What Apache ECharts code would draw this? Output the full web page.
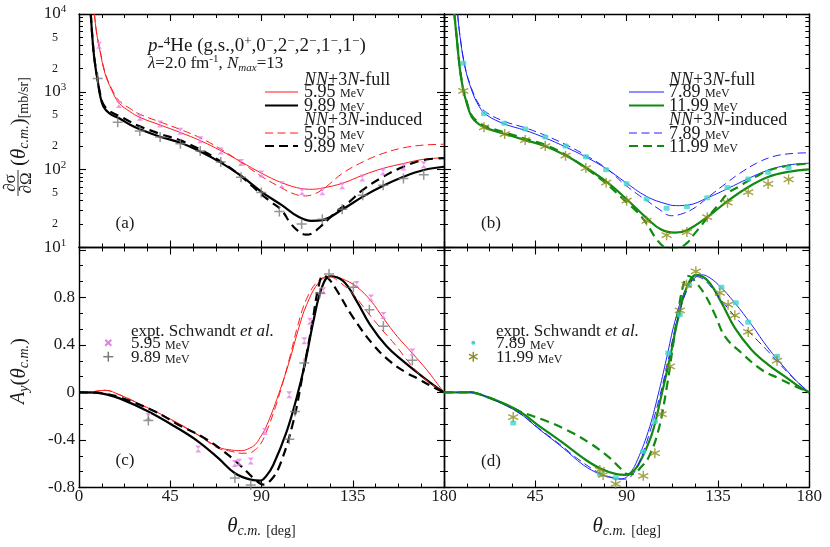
<!DOCTYPE html>
<html><head><meta charset="utf-8">
<script src="https://cdn.jsdelivr.net/npm/echarts@6.0.0/dist/echarts.min.js"></script>
<style>html,body{margin:0;padding:0;background:#fff}#c{width:830px;height:547px}</style>
</head><body><div id="c"></div>
<script>
// ---------------- DATA ----------------
// Panel (a): dσ/dΩ [mb/sr] vs θc.m. [deg]
const sigFull595 = [[7.6,10000],[8.7,5650],[10.4,3300],[12.8,1730],[16.1,1057],[19.7,720],[25,560],[30,470],[40,375],[50,300],[60,235],[70,175],[80,126],[90,90],[100,68],[110,57],[115,56],[120,58],[130,67],[140,85],[150,104],[160,120],[170,136],[180,142]];
const sigFull989 = [[5.8,10000],[7.1,3450],[8.2,2000],[9.2,1400],[10.4,900],[12,650],[15,530],[18.6,470],[20,455],[25,380],[30,330],[40,265],[50,222],[60,170],[70,123],[80,83],[90,52],[100,35],[108,25],[114.7,22],[120,22.5],[130,31],[140,45],[150,62],[160,81],[170,99],[180,109]];
const sigInd595 = [[7.6,10000],[8.7,5700],[10.4,3400],[12.8,1800],[16.1,1100],[19.7,770],[25,615],[30,515],[40,410],[50,328],[60,255],[70,183],[80,124],[90,82],[100,58],[105,50],[110.6,46],[115,47.5],[121,58],[130,90],[140,126],[150,162],[160,191],[170,207],[180,212]];
const sigInd989 = [[5.8,10000],[7.1,3500],[8.2,2050],[9.2,1450],[10.4,950],[12,690],[15,570],[18.6,505],[20,490],[25,415],[30,360],[40,288],[50,238],[60,180],[70,127],[80,82],[90,48],[95,38],[100,30],[104,21],[108,16.3],[112,14.6],[115,15.2],[119,18.5],[124,24.5],[127,29],[133,38],[140,55],[150,81],[160,109],[170,133],[180,141]];
const expSig595 = [[9.9,3980],[19.7,687],[30,471],[40,386],[50,311],[59.8,243],[69.9,174],[79.9,124],[89.9,88],[100,64],[110,52],[120,52],[129.8,62],[139.7,78],[149.9,94],[160,108],[170,116]];
const expSig989 = [[9.2,1483],[19.1,406],[30,314],[40,263],[50,216],[59.8,174],[69.9,125],[79.9,80],[89.9,51],[98.8,29],[109.8,20],[120,23],[129.8,31],[139.9,47],[150,63],[160,77],[170,86]];

// Panel (b)
const sigFull789 = [[6.7,10000],[7.9,5120],[10.3,2100],[13.6,1057],[17.4,644],[21,504],[30,385],[40,320],[50,255],[60,195],[70,145],[80,103],[89,70],[100,45],[110,36],[114.6,34.5],[120,35],[130,43.6],[140,57.5],[150,77],[160,99],[170,115],[180,121]];
const sigFull1199 = [[5.1,10000],[6.2,5120],[7.9,1900],[9.5,1050],[10.3,865],[13.6,479],[17.7,375],[21,339],[30,287],[40,240],[50,200],[60,152],[70,106],[80,70],[90,41.7],[100,23.7],[107,17],[113.8,15.5],[120,16.8],[130,24.9],[140,40],[150,60],[160,81],[170,94],[180,101]];
const sigInd789 = [[6.7,10000],[7.9,5200],[10.3,2150],[13.6,1100],[17.4,680],[21,540],[30,415],[40,345],[50,275],[60,210],[70,152],[80,104],[88,68],[95,49],[100,40],[106,31],[112,25.6],[118,27.5],[124,33],[130,44],[140,70],[145.8,90],[154,121],[162,147],[170,160],[180,165]];
const sigInd1199 = [[5.1,10000],[6.2,5200],[7.9,1950],[9.5,1080],[10.3,900],[13.6,500],[17.7,395],[21,355],[30,300],[40,250],[50,208],[60,155],[70,104],[80,66],[90,38],[95,29],[100,20],[104.7,12.8],[109,10],[114,9.5],[119.5,11.3],[123.6,15.2],[127,19.5],[130,24.5],[135,35],[140,50],[145,60],[150,72],[155,85],[160,98],[170,113],[180,120]];
const expSig789 = [[9.5,2330],[19.7,524],[29.7,394],[40,333],[49.9,263],[59.9,201],[69.9,147],[79.9,100],[90,66],[99.8,42],[109.7,32],[119.7,33.5],[129.7,43.6],[139.7,59],[149.9,76],[159.7,92.5],[169.8,105]];
const expSig1199 = [[9.5,1026],[19.7,350],[29.9,287],[40,240],[49.9,201],[59.9,151],[69.9,105],[79.9,68],[90,40],[99.8,22],[109.7,14.4],[119.7,15.8],[129.7,24.5],[139.7,37.7],[149.9,51.6],[159.7,65.5],[169.8,75]];

// Panel (c): Ay
const ayFull595 = [[0,0],[6,0.005],[12.8,0.018],[20,-0.02],[34.2,-0.132],[47.3,-0.244],[58.8,-0.357],[68.7,-0.46],[75.3,-0.485],[80.2,-0.49],[84,-0.47],[86.8,-0.44],[89.3,-0.38],[92,-0.30],[97.5,-0.06],[103.7,0.26],[108,0.52],[112.3,0.74],[118.8,0.936],[124.6,0.978],[130,0.955],[136.9,0.89],[144,0.77],[150.1,0.625],[157,0.47],[164.4,0.33],[171.5,0.19],[176,0.09],[180,0]];
const ayFull989 = [[0,0],[8,-0.002],[12.8,-0.014],[20,-0.05],[34.2,-0.16],[47.3,-0.287],[58.8,-0.413],[68.7,-0.553],[76.9,-0.68],[85.2,-0.736],[89.5,-0.742],[92.5,-0.70],[95.8,-0.61],[102.4,-0.329],[107.3,-0.047],[111.5,0.248],[115.6,0.599],[119.7,0.88],[123.8,0.978],[130.4,0.936],[137,0.767],[143.5,0.571],[151.7,0.388],[160,0.261],[168.2,0.149],[175,0.06],[180,0]];
const ayInd595 = [[0,0],[6,0.005],[12.8,0.018],[20,-0.02],[34.2,-0.135],[47.3,-0.25],[58.8,-0.36],[68.7,-0.47],[75,-0.495],[80,-0.512],[84,-0.51],[87,-0.48],[89.3,-0.44],[92,-0.35],[97.5,-0.09],[103.7,0.28],[108,0.57],[112.3,0.79],[118,0.94],[123.5,0.975],[128,0.935],[135,0.83],[143,0.66],[149.3,0.53],[156,0.40],[162.4,0.26],[170,0.12],[180,0]];
const ayInd989 = [[0,0],[8,-0.002],[12.8,-0.01],[20,-0.04],[37.5,-0.16],[49,-0.272],[60.5,-0.371],[70.4,-0.483],[80.2,-0.624],[86,-0.72],[91,-0.775],[95,-0.73],[99.1,-0.61],[105.7,-0.245],[110.6,0.177],[115,0.58],[118,0.88],[120.5,0.985],[123,0.96],[127.1,0.86],[135.3,0.627],[145.1,0.402],[153.4,0.261],[161.6,0.164],[166.5,0.121],[173,0.06],[180,0]];
const expAy595 = [[34.2,-0.202],[58.8,-0.475],[76.9,-0.599],[79,-0.587],[84.7,-0.576],[91.7,-0.329],[103.7,-0.019],[111.1,0.436],[113.9,0.599],[120.5,0.857],[136.9,0.908],[144,0.796],[150.1,0.647],[164.4,0.34]];
const expAy989 = [[34.2,-0.236],[76.9,-0.72],[84.7,-0.78],[103.7,-0.393],[106.5,-0.16],[111.1,0.248],[118.8,0.838],[123.3,0.998],[135.3,0.885],[143.2,0.697],[150.1,0.557],[164.4,0.27]];

// Panel (d): Ay
const ayFull789 = [[0,0],[8,0],[12.8,0.004],[20,-0.03],[35.8,-0.16],[47.3,-0.315],[58.8,-0.469],[68.6,-0.61],[76.8,-0.688],[82,-0.715],[86,-0.728],[89,-0.722],[91.6,-0.68],[94.5,-0.6],[100.6,-0.33],[105.5,-0.02],[109.7,0.29],[113.8,0.599],[118.7,0.852],[124.4,0.978],[127,0.99],[130,0.975],[135.1,0.908],[143.3,0.754],[151.5,0.571],[159.7,0.374],[167.9,0.206],[174,0.09],[180,0]];
const ayFull1199 = [[0,0],[8,0],[12.8,0],[20,-0.03],[35.8,-0.146],[47.3,-0.287],[58.8,-0.427],[68.6,-0.553],[76.8,-0.638],[85,-0.688],[89,-0.694],[92,-0.68],[95.7,-0.61],[102.3,-0.357],[107.2,-0.02],[111.3,0.29],[115.4,0.627],[119.5,0.88],[124.4,0.99],[130.2,0.936],[136.8,0.754],[143.3,0.543],[151.5,0.36],[159.7,0.234],[167.9,0.135],[174,0.06],[180,0]];
const ayInd789 = [[0,0],[8,0],[12.8,0.004],[20,-0.03],[35.8,-0.16],[47.3,-0.31],[58.8,-0.46],[66,-0.56],[76.8,-0.68],[84,-0.72],[89,-0.73],[92,-0.71],[96,-0.6],[101.5,-0.33],[106.5,-0.02],[110.7,0.29],[114.8,0.6],[119.5,0.85],[124.5,0.975],[128,0.95],[132,0.88],[138.4,0.74],[147.7,0.557],[158.9,0.36],[170.4,0.15],[180,0]];
const ayInd1199 = [[0,0],[8,0],[12.8,0],[20,-0.03],[30,-0.1],[37.4,-0.16],[48.9,-0.23],[60.4,-0.315],[71.9,-0.427],[81.8,-0.553],[87,-0.64],[91,-0.69],[94,-0.68],[97,-0.63],[100.6,-0.553],[105.5,-0.329],[109.7,0.037],[112.9,0.402],[115.5,0.7],[118.7,0.95],[120.5,0.98],[123,0.95],[128.5,0.824],[133.5,0.655],[138.4,0.472],[146.6,0.332],[156.5,0.191],[164.6,0.121],[172,0.06],[180,0]];
const expAy789 = [[34.1,-0.258],[76.8,-0.688],[84.6,-0.717],[98.2,-0.497],[103.9,-0.245],[110.5,0.332],[116.2,0.655],[120.8,0.9],[136.7,0.885],[143.8,0.754],[149.9,0.59],[164.1,0.304]];
const expAy1199 = [[34.1,-0.207],[76.8,-0.652],[78.4,-0.694],[84.6,-0.77],[98.2,-0.702],[103.9,-0.511],[107.2,-0.182],[111.3,0.219],[116.2,0.691],[119.5,0.908],[124.1,1.02],[135.9,0.838],[140,0.739],[143.3,0.649],[149.9,0.509],[164.1,0.267]];

// Axis ticks
const thetaTicks = [0, 45, 90, 135, 180];
const sigmaDecades = [10, 100, 1000, 10000];
const sigmaLabelMantissas = [2, 5];
const ayTickLabels = [-0.8, -0.4, 0, 0.4, 0.8];

// ---------------- STYLE ----------------
const FONT = '"Liberation Serif", "DejaVu Serif", serif';
const TXT = '#1a1a1a';
const C = {red:'#ff1a1a', black:'#000000', blue:'#2020ff', green:'#118a11', pink:'#e77fe7', gray:'#7a7a7a', cyan:'#3fd6cc', olive:'#8c8c1c'};

const logMajor = sigmaDecades.map(v => Math.log10(v));
const logMinor = [];
sigmaDecades.slice(0, -1).forEach(d => { for (let k = 2; k <= 9; k++) logMinor.push(Math.log10(d * k)); });
const logLabels = [];
sigmaDecades.forEach((d, i) => { logLabels.push(Math.log10(d)); if (i < sigmaDecades.length - 1) sigmaLabelMantissas.forEach(m => logLabels.push(Math.log10(d * m))); });

const grids = [
  {left: 79, top: 14, width: 365, height: 233.5},
  {left: 444, top: 14, width: 365.3, height: 233.5},
  {left: 79, top: 247.5, width: 365, height: 240},
  {left: 444, top: 247.5, width: 365.3, height: 240}
];

const lineAx = {show: true, onZero: false, lineStyle: {color: '#000', width: 1.4}};
function xAx(g, pos, labels, hideZero) {
  return {
    type: 'value', gridIndex: g, position: pos, min: thetaTicks[0], max: thetaTicks[thetaTicks.length-1], interval: 45,
    axisLine: lineAx,
    axisTick: {show: true, inside: true, length: 7, lineStyle: {color: '#000', width: 1.1}},
    minorTick: {show: true, splitNumber: 4, length: 4, lineStyle: {color: '#000', width: 1}},
    splitLine: {show: false},
    axisLabel: labels ? {show: true, margin: 1, fontFamily: FONT, fontSize: 17, color: TXT,
      formatter: v => (hideZero && v === 0) ? '' : String(v)} : {show: false}
  };
}
function fmtLog(v) {
  const e = Math.round(v);
  if (Math.abs(v - e) < 1e-4) return '{b|10}{sp|' + e + '}';
  return '{m|' + Math.round(Math.pow(10, v - Math.floor(v))) + '}';
}
function yLogMajor(g, pos, labels) {
  return {
    type: 'value', gridIndex: g, position: pos, min: logMajor[0], max: logMajor[logMajor.length-1],
    axisLine: lineAx,
    axisTick: {show: true, inside: true, length: 7, customValues: logMajor, lineStyle: {color: '#000', width: 1.1}},
    minorTick: {show: false}, splitLine: {show: false},
    axisLabel: labels ? {show: true, customValues: logLabels, margin: 24, align: 'center', formatter: fmtLog,
      rich: {
        b: {fontFamily: FONT, fontSize: 17, color: TXT, lineHeight: 20},
        sp: {fontFamily: FONT, fontSize: 11, color: TXT, lineHeight: 11, verticalAlign: 'top'},
        m: {fontFamily: FONT, fontSize: 12, color: TXT, lineHeight: 14}
      }} : {show: false}
  };
}
function yLogMinor(g, pos) {
  return {
    type: 'value', gridIndex: g, position: pos, min: logMajor[0], max: logMajor[logMajor.length-1],
    axisLine: {show: false, onZero: false},
    axisTick: {show: true, inside: true, length: 4, customValues: logMinor, lineStyle: {color: '#000', width: 1}},
    minorTick: {show: false}, splitLine: {show: false}, axisLabel: {show: false}
  };
}
function yLin(g, pos, labels) {
  return {
    type: 'value', gridIndex: g, position: pos, min: -0.8, max: 1.22, interval: 0.4,
    axisLine: lineAx,
    axisTick: {show: true, inside: true, length: 7, lineStyle: {color: '#000', width: 1.1}},
    minorTick: {show: true, splitNumber: 3, length: 4, lineStyle: {color: '#000', width: 1}},
    splitLine: {show: false},
    axisLabel: labels ? {show: true, customValues: ayTickLabels, margin: 4, fontFamily: FONT, fontSize: 17, color: TXT,
      formatter: v => Math.abs(v) < 1e-9 ? '0' : v.toFixed(1)} : {show: false}
  };
}

const xAxis = [
  xAx(0,'bottom',false), xAx(0,'top',false),
  xAx(1,'bottom',false), xAx(1,'top',false),
  xAx(2,'bottom',true,false), xAx(2,'top',false),
  xAx(3,'bottom',true,true), xAx(3,'top',false)
];
const yAxis = [
  yLogMajor(0,'left',true), yLogMinor(0,'left'), yLogMajor(0,'right',false), yLogMinor(0,'right'),
  yLogMajor(1,'left',false), yLogMinor(1,'left'), yLogMajor(1,'right',false), yLogMinor(1,'right'),
  yLin(2,'left',true), yLin(2,'right',false),
  yLin(3,'left',false), yLin(3,'right',false)
];
const MAIN = [{x:0,y:0,log:true},{x:2,y:4,log:true},{x:4,y:8,log:false},{x:6,y:10,log:false}];

function conv(data, log) { return log ? data.map(p => [p[0], Math.log10(p[1])]) : data; }
function curve(name, data, panel, color, width, dashed) {
  const m = MAIN[panel];
  return {
    type: 'line', name, xAxisIndex: m.x, yAxisIndex: m.y, data: conv(data, m.log),
    showSymbol: false, symbol: 'none', smooth: 0.4, silent: true, z: 3,
    lineStyle: {color, width, type: dashed ? (width > 1.5 ? [9, 5.5] : [8, 4.5]) : 'solid', cap: 'butt', join: 'round'}
  };
}
const HOURGLASS = 'path://M0,0L10,0L5,5L10,10L0,10L5,5Z';
const PLUS = 'path://M5,0L5,10M0,5L10,5';
const STAR = 'path://M5,0L5,10M0.67,2.5L9.33,7.5M0.67,7.5L9.33,2.5';
function points(name, data, panel, kind) {
  const m = MAIN[panel];
  const s = {type: 'scatter', name, xAxisIndex: m.x, yAxisIndex: m.y, data: conv(data, m.log), silent: true, z: 4};
  if (kind === 'pink') Object.assign(s, {symbol: HOURGLASS, symbolSize: [6, 7], itemStyle: {color: C.pink}});
  if (kind === 'gray') Object.assign(s, {symbol: PLUS, symbolSize: 10, itemStyle: {color: 'rgba(0,0,0,0)', borderColor: C.gray, borderWidth: 1.5}});
  if (kind === 'cyan') Object.assign(s, {symbol: 'roundRect', symbolSize: [6, 5], itemStyle: {color: C.cyan}});
  if (kind === 'olive') Object.assign(s, {symbol: STAR, symbolSize: 10, itemStyle: {color: 'rgba(0,0,0,0)', borderColor: C.olive, borderWidth: 1.4}});
  return s;
}

const series = [
  points('expt 5.95', expSig595, 0, 'pink'), points('expt 9.89', expSig989, 0, 'gray'),
  curve('full 5.95', sigFull595, 0, C.red, 1, false), curve('full 9.89', sigFull989, 0, C.black, 2.2, false),
  curve('ind 5.95', sigInd595, 0, C.red, 1, true), curve('ind 9.89', sigInd989, 0, C.black, 2.2, true),

  points('expt 7.89', expSig789, 1, 'cyan'), points('expt 11.99', expSig1199, 1, 'olive'),
  curve('full 7.89', sigFull789, 1, C.blue, 1, false), curve('full 11.99', sigFull1199, 1, C.green, 2.2, false),
  curve('ind 7.89', sigInd789, 1, C.blue, 1, true), curve('ind 11.99', sigInd1199, 1, C.green, 2.2, true),

  points('Ay expt 5.95', expAy595, 2, 'pink'), points('Ay expt 9.89', expAy989, 2, 'gray'),
  curve('Ay full 5.95', ayFull595, 2, C.red, 1, false), curve('Ay full 9.89', ayFull989, 2, C.black, 2.2, false),
  curve('Ay ind 5.95', ayInd595, 2, C.red, 1, true), curve('Ay ind 9.89', ayInd989, 2, C.black, 2.2, true),

  points('Ay expt 7.89', expAy789, 3, 'cyan'), points('Ay expt 11.99', expAy1199, 3, 'olive'),
  curve('Ay full 7.89', ayFull789, 3, C.blue, 1, false), curve('Ay full 11.99', ayFull1199, 3, C.green, 2.2, false),
  curve('Ay ind 7.89', ayInd789, 3, C.blue, 1, true), curve('Ay ind 11.99', ayInd1199, 3, C.green, 2.2, true)
];

// ---------------- TEXT / LEGENDS (graphic) ----------------
const measureCtx = document.createElement('canvas').getContext('2d');
function textWidth(text, px, italic) {
  measureCtx.font = (italic ? 'italic ' : '') + px + 'px ' + FONT;
  return measureCtx.measureText(text).width;
}
function rs(size, italic, va, lh) {
  const o = {fontFamily: FONT, fontSize: size, fill: TXT, color: TXT};
  if (italic) o.fontStyle = 'italic';
  if (va) o.verticalAlign = va;
  if (lh) o.lineHeight = lh;
  return o;
}
const RICH = {
  r: rs(17, false, null, 20), i: rs(17, true, null, 20),
  R: rs(18, false, null, 20), I: rs(18, true, null, 20),
  u: rs(12, false, null, 14),
  r19: rs(19, false, null, 22), i19: rs(19, true, null, 22), sp: rs(13, false, 'top', 12),
  s17: rs(17, false, null, 20), i17: rs(17, true, null, 20),
  sp11: rs(11, false, 'top', 10), sb11: rs(11, true, 'bottom', 9),
  t: rs(21, true, null, 24), P: rs(21, false, null, 24), sb: rs(14, true, 'bottom', 11),
  U: rs(14, false, 'bottom', 19), A: rs(20, true, null, 24)
};
function T(x, y, text, align, extra) {
  return Object.assign({type: 'text', x, y, silent: true, style: {
    text, rich: RICH, fill: TXT, font: '17px ' + FONT,
    align: align || 'left', textAlign: align || 'left', verticalAlign: 'middle', textVerticalAlign: 'middle'
  }}, extra || {});
}
function L(x1, x2, y, color, w, dash) {
  return {type: 'line', silent: true, shape: {x1, y1: y, x2, y2: y}, style: {stroke: color, lineWidth: w, lineDash: dash || null}};
}
// energy label "x.xx MeV": number then small "MeV" placed after the measured number width
function mev(x, y, e, px) {
  const w = textWidth(e + ' ', px, false);
  return [T(x, y, '{' + (px === 18 ? 'R' : 'r') + '|' + e + '}'), T(x + w, y + 1.5, '{u|MeV}')];
}
const headFull = '{I|NN}{R|+3}{I|N}{R|-full}';
const headInd = '{I|NN}{R|+3}{I|N}{R|-induced}';

function topLegend(lx1, lx2, tx, cThin, cThick, e1, e2) {
  return [
    T(tx, 80.5, headFull),
    L(lx1, lx2, 92, cThin, 1), ...mev(tx, 92.5, e1, 18),
    L(lx1, lx2, 105.5, cThick, 2.2), ...mev(tx, 106.5, e2, 18),
    T(tx, 120, headInd),
    L(lx1, lx2, 133, cThin, 1, [8, 4.5]), ...mev(tx, 134.5, e1, 18),
    L(lx1, lx2, 146, cThick, 2.2, [9, 5]), ...mev(tx, 147.5, e2, 18)
  ];
}
const mk = (type, shape, style) => ({type, silent: true, shape, style});

const elements = [
  T(148, 46, '{i19|p}{r19|-}{sp|4}{r19|He (g.s.,0}{sp|+}{r19|,0}{sp|−}{r19|,2}{sp|−}{r19|,2}{sp|−}{r19|,1}{sp|−}{r19|,1}{sp|−}{r19|)}'),
  T(148, 64, '{i17|λ}{s17|=2.0 fm}{sp11|-1}{s17|, }{i17|N}{sb11|max}{s17|=13}'),
  ...topLegend(265, 298, 304, C.red, C.black, '5.95', '9.89'),
  ...topLegend(629, 664, 669, C.blue, C.green, '7.89', '11.99'),
  T(125, 223.5, '{r|(a)}', 'center'), T(491, 223.5, '{r|(b)}', 'center'),
  T(125, 461, '{r|(c)}', 'center'), T(491, 461.5, '{r|(d)}', 'center'),
  // bottom-left legend
  T(131, 332, '{r|expt. Schwandt }{i|et al.}'),
  mk('line', {x1: 105.3, y1: 339.7, x2: 111.3, y2: 345.7}, {stroke: C.pink, lineWidth: 2}),
  mk('line', {x1: 111.3, y1: 339.7, x2: 105.3, y2: 345.7}, {stroke: C.pink, lineWidth: 2}),
  ...mev(131, 344, '5.95', 17),
  mk('line', {x1: 103.3, y1: 356.7, x2: 113.3, y2: 356.7}, {stroke: C.gray, lineWidth: 1.5}),
  mk('line', {x1: 108.3, y1: 351.7, x2: 108.3, y2: 361.7}, {stroke: C.gray, lineWidth: 1.5}),
  ...mev(131, 358, '9.89', 17),
  // bottom-right legend
  T(496, 332, '{r|expt. Schwandt }{i|et al.}'),
  mk('circle', {cx: 473.3, cy: 342.7, r: 2}, {fill: C.cyan}),
  ...mev(496, 344, '7.89', 17),
  mk('line', {x1: 473.3, y1: 351.7, x2: 473.3, y2: 361.7}, {stroke: C.olive, lineWidth: 1.4}),
  mk('line', {x1: 469, y1: 354.2, x2: 477.6, y2: 359.2}, {stroke: C.olive, lineWidth: 1.4}),
  mk('line', {x1: 469, y1: 359.2, x2: 477.6, y2: 354.2}, {stroke: C.olive, lineWidth: 1.4}),
  ...mev(496, 358, '11.99', 17),
  // x-axis names
  T(261.5, 526, '{t|θ}{sb|c.m.}{P| }{U|[deg]}', 'center'),
  T(626.6, 526, '{t|θ}{sb|c.m.}{P| }{U|[deg]}', 'center'),
  // y-axis name (Ay)
  T(19, 371, '{A|A}{sb|y}{P|(}{t|θ}{sb|c.m.}{P|)}', 'center', {rotation: Math.PI / 2}),
  // y-axis name (dσ/dΩ)
  {type: 'group', x: 18, y: 200, rotation: Math.PI / 2, silent: true, children: [
    T(17, -7, '{r|∂σ}', 'center'),
    mk('line', {x1: 4, y1: 0, x2: 30, y2: 0}, {stroke: TXT, lineWidth: 0.9}),
    T(17, 9, '{r|∂Ω}', 'center'),
    T(34, 1, '{P|(}{t|θ}{sb|c.m.}{P|)}{U|[mb/sr]}', 'left')
  ]}
];

const option = {
  animation: false,
  backgroundColor: '#ffffff',
  grid: grids.map(g => Object.assign({show: false, containLabel: false, outerBoundsMode: 'none'}, g)),
  xAxis, yAxis, series,
  graphic: {elements}
};
const chart = echarts.init(document.getElementById('c'), null, {renderer: 'canvas', width: 830, height: 547});
chart.setOption(option);
</script></body></html>
